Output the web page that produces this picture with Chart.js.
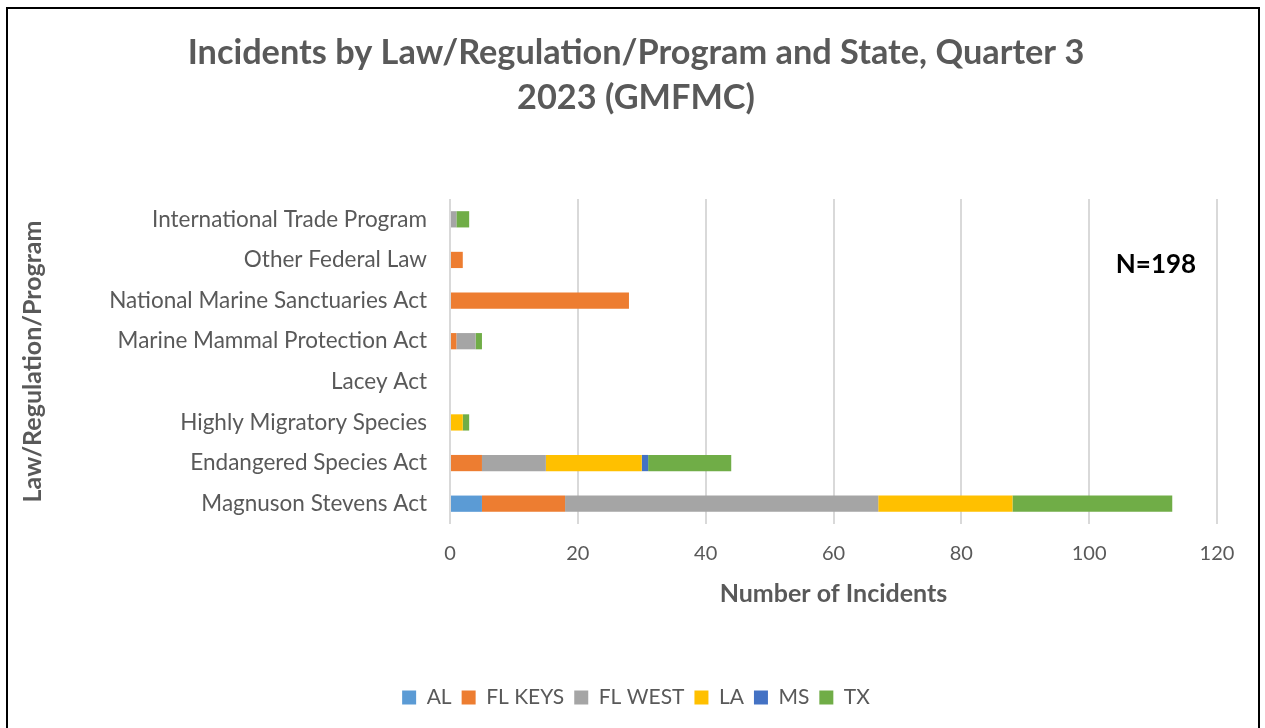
<!DOCTYPE html>
<html>
<head>
<meta charset="utf-8">
<script src="https://cdn.jsdelivr.net/npm/chart.js@4.4.1/dist/chart.umd.min.js"></script>
<style>
  html, body { margin: 0; padding: 0; background: #ffffff; }
  #wrap { position: relative; width: 1265px; height: 728px; overflow: hidden; }
  #frame { position: absolute; left: 6px; top: 7px; width: 1254px; height: 800px; border: 2px solid #000; box-sizing: border-box; pointer-events: none; }
  canvas { position: absolute; left: 0; top: 0; }
</style>
</head>
<body>
<div id="wrap">
  <canvas id="c" width="1265" height="728"></canvas>
  <div id="frame"></div>
</div>
<script>
const categories = [
  'International Trade Program',
  'Other Federal Law',
  'National Marine Sanctuaries Act',
  'Marine Mammal Protection Act',
  'Lacey Act',
  'Highly Migratory Species',
  'Endangered Species Act',
  'Magnuson Stevens Act'
];
const AL      = [0, 0, 0, 0, 0, 0, 0, 5];
const FL_KEYS = [0, 2, 28, 1, 0, 0, 5, 13];
const FL_WEST = [1, 0, 0, 3, 0, 0, 10, 49];
const LA      = [0, 0, 0, 0, 0, 2, 15, 21];
const MS      = [0, 0, 0, 0, 0, 0, 1, 0];
const TX      = [2, 0, 0, 1, 0, 1, 13, 25];
const seriesNames = ['AL', 'FL KEYS', 'FL WEST', 'LA', 'MS', 'TX'];
const xTicks = [0, 20, 40, 60, 80, 100, 120];
const titleLines = ['Incidents by Law/Regulation/Program and State, Quarter 3', '2023 (GMFMC)'];
const noteText = 'N=198';

const colors = ['#5B9BD5', '#ED7D31', '#A5A5A5', '#FFC000', '#4472C4', '#70AD47'];
const seriesData = [AL, FL_KEYS, FL_WEST, LA, MS, TX];
const FONT = 'Lato, "Open Sans", sans-serif';
const GREY = '#595959';

const notePlugin = {
  id: 'note',
  afterDraw(chart) {
    const ctx = chart.ctx;
    const a = chart.chartArea;
    ctx.save();
    ctx.font = 'bold 26px ' + FONT;
    ctx.fillStyle = '#000000';
    ctx.textAlign = 'center';
    ctx.textBaseline = 'middle';
    ctx.fillText(noteText, a.right - 61, a.top + 66);
    ctx.restore();
  }
};

new Chart(document.getElementById('c'), {
  type: 'bar',
  data: {
    labels: categories,
    datasets: seriesNames.map((n, i) => ({
      label: n,
      data: seriesData[i],
      backgroundColor: colors[i],
      borderWidth: 0,
      barPercentage: 0.4,
      categoryPercentage: 1.0
    }))
  },
  options: {
    indexAxis: 'y',
    responsive: false,
    animation: false,
    devicePixelRatio: 1,
    layout: { padding: { left: 55, right: 48, top: 0, bottom: 10 } },
    plugins: {
      title: {
        display: true,
        text: titleLines,
        color: GREY,
        font: { family: FONT, size: 34.3, weight: 'bold', lineHeight: 1.312 },
        padding: { top: 30, bottom: 79 }
      },
      legend: {
        position: 'bottom',
        labels: {
          color: GREY,
          font: { family: FONT, size: 21 },
          boxWidth: 14,
          boxHeight: 14,
          padding: 10
        }
      },
      tooltip: { enabled: false }
    },
    scales: {
      x: {
        stacked: true,
        min: 0,
        max: 120,
        afterBuildTicks(scale) { scale.ticks = xTicks.map(v => ({ value: v })); },
        afterFit(scale) { scale.height = 153; },
        grid: { color: '#D9D9D9', lineWidth: 2, drawTicks: false },
        border: { display: false },
        ticks: { color: GREY, font: { family: FONT, size: 20 }, padding: 18 },
        title: {
          display: true,
          text: 'Number of Incidents',
          color: GREY,
          font: { family: FONT, size: 25, weight: 'bold', lineHeight: 1.2 },
          padding: { top: 0, bottom: 68 }
        }
      },
      y: {
        stacked: true,
        afterFit(scale) { scale.width = 395; },
        grid: { display: false, drawTicks: false },
        border: { display: false },
        ticks: { color: GREY, font: { family: FONT, size: 22.5 }, padding: 23 },
        title: {
          display: true,
          text: 'Law/Regulation/Program',
          color: GREY,
          font: { family: FONT, size: 25, weight: 'bold', lineHeight: 1.2 },
          padding: { top: -37, bottom: 0 }
        }
      }
    }
  },
  plugins: [notePlugin]
});
</script>
</body>
</html>
